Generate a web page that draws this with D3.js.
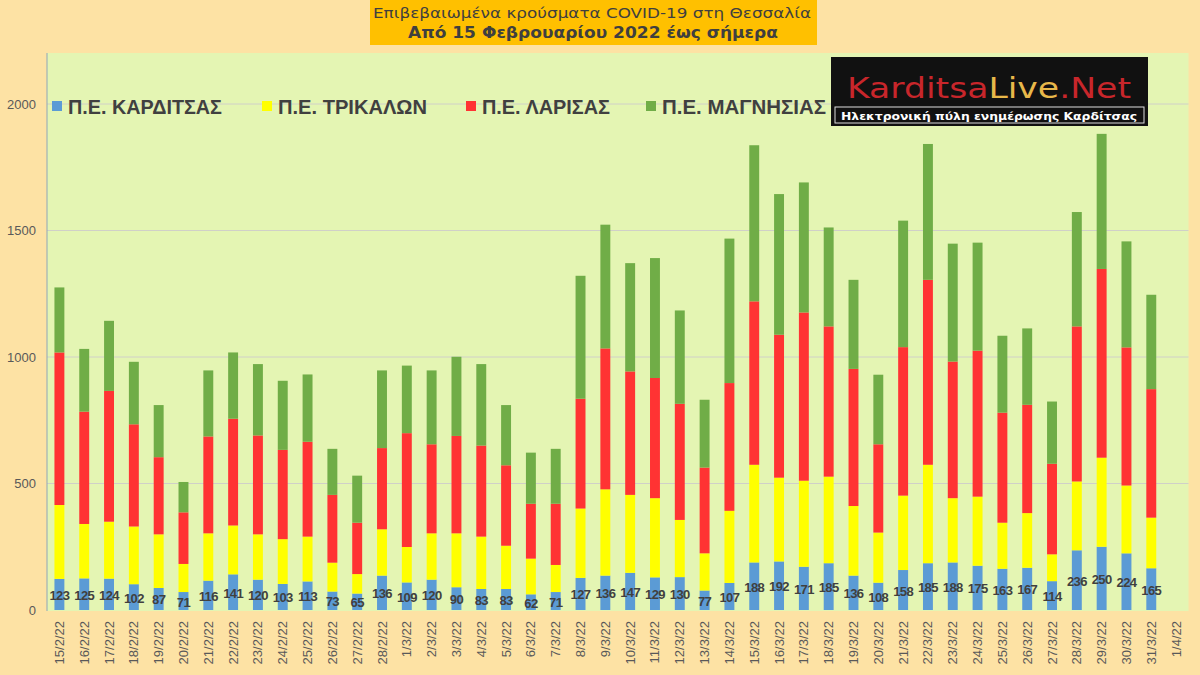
<!DOCTYPE html>
<html lang="el">
<head>
    <meta charset="UTF-8">
    <title>Κρούσματα COVID-19 Θεσσαλία</title>
    <script src="https://d3js.org/d3.v7.min.js"></script>
    <style>
        body { margin: 0; background: #fde2a4; }
        svg { display: block; }
    </style>
</head>
<body>
    <svg width="1200" height="675"></svg>

    <script>
        // Dates (last slot 1/4/22 is empty on the chart)
        const dates = ["15/2/22","16/2/22","17/2/22","18/2/22","19/2/22","20/2/22","21/2/22","22/2/22",
            "23/2/22","24/2/22","25/2/22","26/2/22","27/2/22","28/2/22","1/3/22","2/3/22","3/3/22",
            "4/3/22","5/3/22","6/3/22","7/3/22","8/3/22","9/3/22","10/3/22","11/3/22","12/3/22",
            "13/3/22","14/3/22","15/3/22","16/3/22","17/3/22","18/3/22","19/3/22","20/3/22","21/3/22",
            "22/3/22","23/3/22","24/3/22","25/3/22","26/3/22","27/3/22","28/3/22","29/3/22","30/3/22",
            "31/3/22","1/4/22"];

        const karditsa = [123,125,124,102,87,71,116,141,120,103,113,73,65,136,109,120,90,83,83,62,71,
            127,136,147,129,130,77,107,188,192,171,185,136,108,158,185,188,175,163,167,114,236,250,224,165];
        const trikala = [292,215,225,228,212,111,187,193,179,177,177,114,77,183,140,183,213,207,171,141,107,
            274,341,308,313,226,147,285,386,331,340,342,275,198,294,389,254,273,182,216,106,272,352,268,200];
        const larisa = [603,444,517,404,305,204,383,422,391,353,375,268,203,321,450,352,385,360,318,217,242,
            434,557,488,475,459,339,505,646,565,665,594,542,349,587,731,540,577,435,428,358,613,746,546,508];
        const magnisia = [257,248,277,247,206,120,261,262,282,273,266,182,186,307,267,292,313,322,238,202,217,
            486,489,428,474,369,268,571,617,556,514,391,352,275,500,537,466,427,304,302,246,452,534,419,373];

        const seriesNames = ["Π.Ε. ΚΑΡΔΙΤΣΑΣ", "Π.Ε. ΤΡΙΚΑΛΩΝ", "Π.Ε. ΛΑΡΙΣΑΣ", "Π.Ε. ΜΑΓΝΗΣΙΑΣ"];
        const seriesColors = ["#5b9bd5", "#ffff00", "#ff3333", "#70ad47"];
        const yTicks = [0, 500, 1000, 1500, 2000];

        const svg = d3.select("svg");
        const plot = { left: 47, right: 1188.5, top: 53, bottom: 611 };

        // backgrounds
        svg.append("rect").attr("width", 1200).attr("height", 675).attr("fill", "#fde2a4");
        svg.append("rect")
            .attr("x", plot.left).attr("y", plot.top)
            .attr("width", plot.right - plot.left).attr("height", plot.bottom - plot.top)
            .attr("fill", "#e4f5b3");

        // title box
        svg.append("rect").attr("x", 370).attr("y", 0).attr("width", 447).attr("height", 45).attr("fill", "#ffc000");
        svg.append("text").attr("x", 592).attr("y", 18).attr("text-anchor", "middle")
            .attr("font-family", "DejaVu Sans, sans-serif").attr("font-size", 14)
            .attr("textLength", 438).attr("lengthAdjust", "spacingAndGlyphs")
            .attr("fill", "#3f3f3f").text("Επιβεβαιωμένα κρούσματα COVID-19 στη Θεσσαλία");
        svg.append("text").attr("x", 593).attr("y", 38).attr("text-anchor", "middle")
            .attr("font-family", "DejaVu Sans, sans-serif").attr("font-size", 15).attr("font-weight", "bold")
            .attr("textLength", 370).attr("lengthAdjust", "spacingAndGlyphs")
            .attr("fill", "#3f3f3f").text("Από 15 Φεβρουαρίου 2022 έως σήμερα");

        // scales
        const x = d3.scaleBand().domain(dates).range([plot.left, plot.right]).paddingInner(0.6).paddingOuter(0.3);
        const y = d3.scaleLinear().domain([0, 2000]).range([610, 104]);

        // gridlines
        svg.append("g").selectAll("line").data(yTicks.slice(1)).join("line")
            .attr("x1", plot.left).attr("x2", plot.right)
            .attr("y1", d => y(d)).attr("y2", d => y(d))
            .attr("stroke", "#d0d0c8").attr("stroke-width", 1);

        // y axis
        const yAxis = svg.append("g").attr("transform", `translate(${plot.left},0)`)
            .call(d3.axisLeft(y).tickValues(yTicks).tickFormat(d3.format("d")).tickSize(0).tickPadding(11));
        yAxis.select(".domain").attr("stroke", "#8fa6b8").attr("d", `M0,${plot.top}V${plot.bottom}`);
        yAxis.selectAll("text").attr("font-family", "Liberation Sans, Arial, sans-serif")
            .attr("font-size", 13).attr("fill", "#595959");

        // stacked data
        const rows = karditsa.map((k, i) => ({ date: dates[i], k: k, t: trikala[i], l: larisa[i], m: magnisia[i] }));
        const stack = d3.stack().keys(["k", "t", "l", "m"])(rows);

        svg.append("g").selectAll("g").data(stack).join("g")
            .attr("fill", (d, i) => seriesColors[i])
            .selectAll("rect").data(d => d).join("rect")
            .attr("x", d => x(d.data.date))
            .attr("width", x.bandwidth())
            .attr("y", d => y(d[1]))
            .attr("height", d => y(d[0]) - y(d[1]));

        // Karditsa labels
        svg.append("g").selectAll("text").data(rows).join("text")
            .attr("x", d => x(d.date) + x.bandwidth() / 2)
            .attr("y", d => (y(0) + y(d.k)) / 2 + 1)
            .attr("dominant-baseline", "central")
            .attr("text-anchor", "middle")
            .attr("font-family", "Liberation Sans, Arial, sans-serif")
            .attr("font-size", 13).attr("font-weight", "bold")
            .attr("letter-spacing", -0.6)
            .attr("fill", "#404040")
            .text(d => d.k);

        // x labels
        svg.append("g").selectAll("text").data(dates).join("text")
            .attr("transform", d => `translate(${x(d) + x.bandwidth() / 2 + 4.5},621) rotate(-90)`)
            .attr("text-anchor", "end")
            .attr("font-family", "Liberation Sans, Arial, sans-serif")
            .attr("font-size", 13).attr("fill", "#595959")
            .text(d => d);

        // legend
        const legendX = [52, 262, 466, 646];
        const legendW = [154, 149, 128, 164];
        const legend = svg.append("g").selectAll("g").data(seriesNames).join("g")
            .attr("transform", (d, i) => `translate(${legendX[i]},106)`);
        legend.append("rect").attr("x", 0).attr("y", -5).attr("width", 10).attr("height", 10)
            .attr("fill", (d, i) => seriesColors[i]);
        legend.append("text").attr("x", 16).attr("y", 7.5)
            .attr("font-family", "Liberation Sans Narrow, Liberation Sans, Arial, sans-serif")
            .attr("font-size", 21).attr("font-weight", "bold").attr("fill", "#404040")
            .attr("textLength", (d, i) => legendW[i]).attr("lengthAdjust", "spacingAndGlyphs")
            .text(d => d);

        // logo
        const logo = svg.append("g");
        logo.append("rect").attr("x", 831).attr("y", 57).attr("width", 317).attr("height", 69).attr("fill", "#111");
        const brand = logo.append("text").attr("x", 847).attr("y", 98)
            .attr("font-family", "DejaVu Sans, sans-serif").attr("font-size", 29)
            .attr("textLength", 284).attr("lengthAdjust", "spacingAndGlyphs");
        brand.append("tspan").attr("fill", "#c8262b").text("Karditsa");
        brand.append("tspan").attr("fill", "#e8b84a").text("Live");
        brand.append("tspan").attr("fill", "#c8262b").text(".Net");
        logo.append("rect").attr("x", 835).attr("y", 107).attr("width", 309).attr("height", 16)
            .attr("fill", "#111").attr("stroke", "#ddd").attr("stroke-width", 1);
        logo.append("text").attr("x", 989).attr("y", 119.5).attr("text-anchor", "middle")
            .attr("font-family", "DejaVu Sans, sans-serif").attr("font-size", 11).attr("font-weight", "bold")
            .attr("fill", "#fff").attr("textLength", 296).attr("lengthAdjust", "spacingAndGlyphs")
            .text("Ηλεκτρονική πύλη ενημέρωσης Καρδίτσας");
    </script>
</body>
</html>
